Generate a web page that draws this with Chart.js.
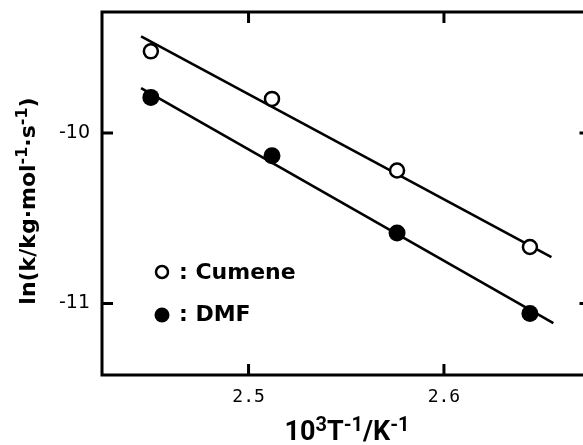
<!DOCTYPE html>
<html>
<head>
    <meta charset="UTF-8">
    <title>ln k vs 1/T</title>
    <script src="https://cdn.jsdelivr.net/npm/chart.js"></script>
    <style>
        body {
            margin: 0;
            padding: 0;
            background: white;
            overflow: hidden;
        }
        canvas {
            display: block;
        }
    </style>
</head>
<body>
    <canvas id="arrheniusChart" width="600" height="445"></canvas>

    <script>
        // Data (x = 10^3/T in K^-1, y = ln k)
        const invTemp = [2.450, 2.512, 2.576, 2.644];
        const cumeneLnK = [-9.521, -9.800, -10.220, -10.669];
        const dmfLnK = [-9.791, -10.133, -10.587, -11.059];

        // Straight fit lines as drawn (end points)
        const cumeneFitX = [2.445, 2.655];
        const cumeneFitY = [-9.433, -10.728];
        const dmfFitX = [2.445, 2.656];
        const dmfFitY = [-9.736, -11.116];

        // Axis ticks
        const xTicks = [2.5, 2.6];
        const yTicks = [-10, -11];

        // Axis titles, split so the exponents can be raised
        const xTitle = [{t: '10'}, {t: '3', sup: true}, {t: 'T'}, {t: '-1', sup: true}, {t: '/K'}, {t: '-1', sup: true}];
        const yTitle = [{t: 'ln(k/kg·mol'}, {t: '-1', sup: true}, {t: '·s'}, {t: '-1', sup: true}, {t: ')'}];

        const toPoints = (xs, ys) => xs.map((x, i) => ({x: x, y: ys[i]}));

        // draws text with superscripts, centred on (0,0) of current transform, baseline at 0
        function drawRich(ctx, parts, baseFont, supFont, raise) {
            let w = 0;
            parts.forEach(p => { ctx.font = p.sup ? supFont : baseFont; w += ctx.measureText(p.t).width; });
            let x = -w / 2;
            ctx.textAlign = 'left';
            ctx.textBaseline = 'alphabetic';
            parts.forEach(p => {
                ctx.font = p.sup ? supFont : baseFont;
                ctx.fillText(p.t, x, p.sup ? -raise : 0);
                x += ctx.measureText(p.t).width;
            });
        }

        // frame with inward ticks on all four sides, legend and axis titles
        const framePlugin = {
            id: 'frame',
            afterDraw(chart) {
                const ctx = chart.ctx;
                const a = chart.chartArea;
                const xs = chart.scales.x, ys = chart.scales.y;
                const tick = 11;
                ctx.save();
                ctx.strokeStyle = '#000';
                ctx.lineWidth = 3;
                ctx.strokeRect(a.left, a.top, a.right - a.left, a.bottom - a.top);
                ctx.beginPath();
                xTicks.forEach(v => {
                    const px = xs.getPixelForValue(v);
                    ctx.moveTo(px, a.bottom); ctx.lineTo(px, a.bottom - tick);
                    ctx.moveTo(px, a.top); ctx.lineTo(px, a.top + tick);
                });
                yTicks.forEach(v => {
                    const py = ys.getPixelForValue(v);
                    ctx.moveTo(a.left, py); ctx.lineTo(a.left + tick, py);
                    ctx.moveTo(a.right, py); ctx.lineTo(a.right - tick, py);
                });
                ctx.stroke();

                // legend
                const lx = a.left + 60;
                ctx.lineWidth = 2.5;
                ctx.beginPath();
                ctx.arc(lx, 272, 6, 0, Math.PI * 2);
                ctx.fillStyle = '#fff';
                ctx.fill();
                ctx.stroke();
                ctx.beginPath();
                ctx.arc(lx, 315, 7.5, 0, Math.PI * 2);
                ctx.fillStyle = '#000';
                ctx.fill();
                ctx.font = 'bold 22px "DejaVu Sans"';
                ctx.textBaseline = 'middle';
                ctx.textAlign = 'left';
                ctx.fillText(': Cumene', lx + 17, 273);
                ctx.fillText(': DMF', lx + 17, 315);

                // axis titles
                ctx.save();
                ctx.translate(347, 440);
                drawRich(ctx, xTitle, 'bold 27px Roboto', 'bold 20px Roboto', 9);
                ctx.restore();
                ctx.save();
                ctx.translate(35, 201);
                ctx.rotate(-Math.PI / 2);
                drawRich(ctx, yTitle, 'bold 22px "DejaVu Sans"', 'bold 16px "DejaVu Sans"', 8);
                ctx.restore();
                ctx.restore();
            }
        };

        const ctx = document.getElementById('arrheniusChart').getContext('2d');
        const chart = new Chart(ctx, {
            type: 'scatter',
            data: {
                datasets: [{
                    label: 'Cumene',
                    data: toPoints(invTemp, cumeneLnK),
                    pointRadius: 7,
                    pointBorderWidth: 2.5,
                    pointBackgroundColor: '#fff',
                    pointBorderColor: '#000',
                    showLine: false
                }, {
                    label: 'DMF',
                    data: toPoints(invTemp, dmfLnK),
                    pointRadius: 8.5,
                    pointBorderWidth: 0,
                    pointBackgroundColor: '#000',
                    pointBorderColor: '#000',
                    showLine: false
                }, {
                    label: 'Cumene fit',
                    data: toPoints(cumeneFitX, cumeneFitY),
                    showLine: true,
                    borderColor: '#000',
                    borderWidth: 2.6,
                    pointRadius: 0
                }, {
                    label: 'DMF fit',
                    data: toPoints(dmfFitX, dmfFitY),
                    showLine: true,
                    borderColor: '#000',
                    borderWidth: 2.6,
                    pointRadius: 0
                }]
            },
            options: {
                responsive: false,
                animation: false,
                layout: {
                    padding: {top: 12, right: 8, left: 0, bottom: 0}
                },
                plugins: {
                    legend: {display: false},
                    tooltip: {enabled: false}
                },
                scales: {
                    x: {
                        type: 'linear',
                        min: 2.425,
                        max: 2.675,
                        afterBuildTicks: s => { s.ticks = xTicks.map(v => ({value: v})); },
                        afterFit: s => { s.height = 70; s.paddingLeft = 0; s.paddingRight = 0; },
                        grid: {display: false, drawTicks: false},
                        border: {display: false},
                        ticks: {
                            color: '#000',
                            padding: 12,
                            font: {family: '"DejaVu Sans Mono"', size: 18},
                            callback: v => v.toFixed(1)
                        }
                    },
                    y: {
                        type: 'linear',
                        min: -11.42,
                        max: -9.29,
                        afterBuildTicks: s => { s.ticks = yTicks.map(v => ({value: v})); },
                        afterFit: s => { s.width = 102; s.paddingTop = 0; s.paddingBottom = 0; },
                        grid: {display: false, drawTicks: false},
                        border: {display: false},
                        ticks: {
                            color: '#000',
                            padding: 12,
                            font: {family: '"DejaVu Sans"', size: 19},
                            callback: v => String(v)
                        }
                    }
                }
            },
            plugins: [framePlugin]
        });
    </script>
</body>
</html>
